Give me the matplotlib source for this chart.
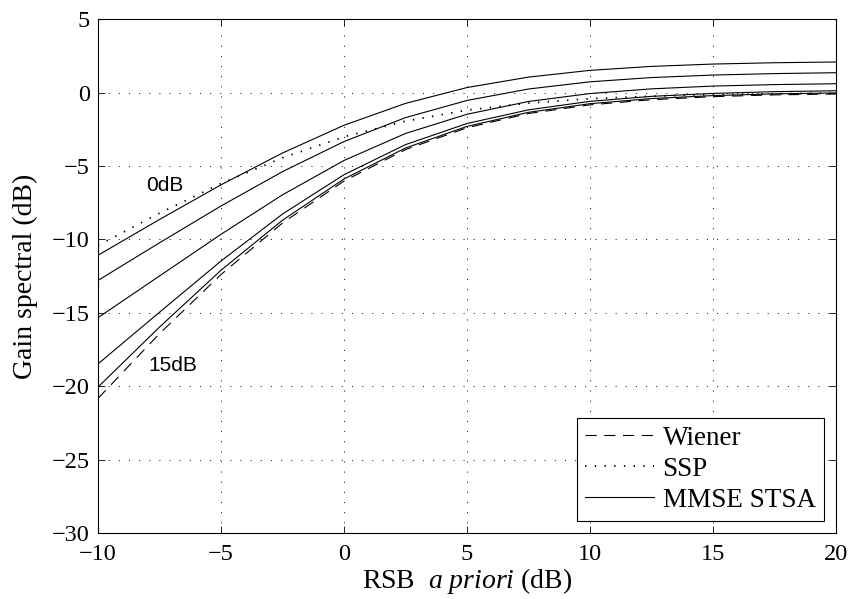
import numpy as np
import matplotlib
matplotlib.use('Agg')
import matplotlib.pyplot as plt

plt.rcParams['font.family'] = 'Liberation Serif'
plt.rcParams['mathtext.fontset'] = 'custom'
plt.rcParams['mathtext.rm'] = 'Liberation Serif'
plt.rcParams['mathtext.it'] = 'Liberation Serif:italic'
plt.rcParams['lines.scale_dashes'] = False

# ── données ─────────────────────────────────────────────────
rsb_priori = [-10, -7.5, -5, -2.5, 0, 2.5, 5, 7.5, 10, 12.5, 15, 17.5, 20]

wiener = [-20.83, -16.42, -12.39, -8.88, -6.02, -3.88, -2.39, -1.42, -0.83, -0.48, -0.27, -0.15, -0.09]
ssp    = [-10.41, -8.21, -6.19, -4.44, -3.01, -1.94, -1.19, -0.71, -0.41, -0.24, -0.13, -0.08, -0.04]

# MMSE STSA, une courbe par RSB a posteriori (0dB en haut ... 15dB en bas)
stsa_0dB  = [-11.08, -8.64, -6.28, -4.11, -2.22, -0.73, 0.35, 1.06, 1.52, 1.79, 1.95, 2.04, 2.09]
stsa_2dB  = [-12.79, -10.23, -7.72, -5.38, -3.33, -1.70, -0.53, 0.25, 0.74, 1.03, 1.20, 1.30, 1.36]
stsa_5dB  = [-15.33, -12.49, -9.65, -6.96, -4.62, -2.78, -1.47, -0.60, -0.06, 0.26, 0.45, 0.55, 0.61]
stsa_10dB = [-18.48, -14.96, -11.47, -8.27, -5.59, -3.54, -2.10, -1.17, -0.59, -0.25, -0.05, 0.07, 0.13]
stsa_15dB = [-20.06, -15.97, -12.10, -8.69, -5.88, -3.77, -2.30, -1.34, -0.75, -0.40, -0.20, -0.08, -0.02]
stsa_curves = [stsa_0dB, stsa_2dB, stsa_5dB, stsa_10dB, stsa_15dB]

x_ticks = [-10, -5, 0, 5, 10, 15, 20]
y_ticks = [-30, -25, -20, -15, -10, -5, 0, 5]

FS_TICK = 17.5
FS_LAB = 20
FS_LEG = 19.5

fig = plt.figure(figsize=(8.5, 5.99), dpi=100)
ax = fig.add_axes([0.1153, 0.1102, 0.8682, 0.8576])

ax.plot(rsb_priori, wiener, color='k', lw=0.8, linestyle=(0, (8, 5.5)), label='Wiener')
ax.plot(rsb_priori, ssp, color='k', lw=1.3, linestyle=(0, (1, 6)), label='SSP')
for i, c in enumerate(stsa_curves):
    ax.plot(rsb_priori, c, color='k', lw=0.8, label='MMSE STSA' if i == 0 else None)

ax.text(-7.3, -6.3, '0dB', family='Liberation Sans', fontsize=15, ha='center', va='center')
ax.text(-6.95, -18.6, '15dB', family='Liberation Sans', fontsize=15, ha='center', va='center')

ax.set_xlim(-10, 20)
ax.set_ylim(-30, 5)
ax.set_xticks(x_ticks)
ax.set_yticks(y_ticks)
ax.tick_params(direction='in', length=5, width=0.6, top=True, right=True, labelsize=FS_TICK)
ax.tick_params(axis='x', pad=8)
ax.tick_params(axis='y', pad=6)
ax.grid(True, color='k', linestyle=(0, (0.8, 6.5)), linewidth=0.6)
for sp in ax.spines.values():
    sp.set_linewidth(0.8)

ax.set_xlabel(r'RSB  $a\ priori$ (dB)', fontsize=FS_LAB, labelpad=1)
ax.set_ylabel('Gain spectral (dB)', fontsize=FS_LAB, labelpad=10)

leg = ax.legend(loc='lower right', fontsize=FS_LEG, frameon=True, fancybox=False,
                edgecolor='k', framealpha=1, handlelength=2.55, handletextpad=0.3,
                borderaxespad=0.45, labelspacing=0.22, borderpad=0.3)
leg.get_frame().set_linewidth(0.8)

plt.savefig('out.png', dpi=100, facecolor='white')
